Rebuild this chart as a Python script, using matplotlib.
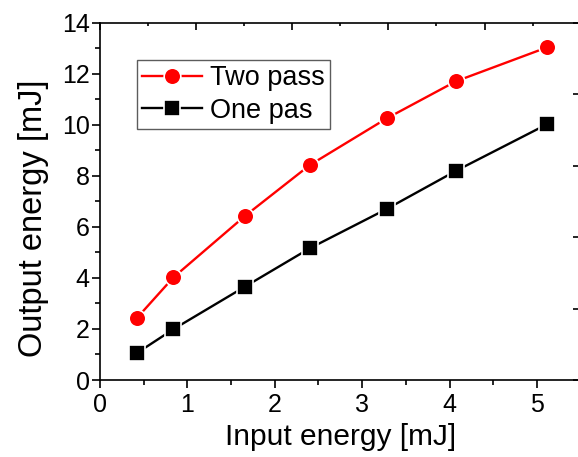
import matplotlib

matplotlib.use("Agg")
import matplotlib.pyplot as plt
from matplotlib.ticker import MultipleLocator

plt.rcParams["font.family"] = ["Liberation Sans", "DejaVu Sans"]

# input energy [mJ]
input_energy = [0.42, 0.84, 1.66, 2.40, 3.28, 4.07, 5.12]
# output energy [mJ]
two_pass = [2.42, 4.02, 6.43, 8.42, 10.25, 11.70, 13.04]
one_pass = [1.05, 1.99, 3.66, 5.16, 6.70, 8.19, 10.03]

fig = plt.figure(figsize=(5.78, 4.57), dpi=100)
ax = fig.add_axes([100 / 578, 77 / 457, 480.7 / 578, 357.3 / 457])

ax.plot(input_energy, two_pass, color="red", lw=1.7, marker="o", ms=12,
        mfc="red", mec="white", mew=1.2, label="Two pass", clip_on=False)
ax.plot(input_energy, one_pass, color="black", lw=1.7, marker="s", ms=11,
        mfc="black", mec="white", mew=1.2, label="One pas", clip_on=False)

ax.set_xlim(0, 5.5)
ax.set_ylim(0, 14)
ax.xaxis.set_major_locator(MultipleLocator(1))
ax.xaxis.set_minor_locator(MultipleLocator(0.5))
ax.yaxis.set_major_locator(MultipleLocator(2))
ax.yaxis.set_minor_locator(MultipleLocator(1))
ax.tick_params(which="both", direction="out", top=False, right=False,
               width=1.2, labelsize=18)
ax.tick_params(axis="x", pad=4)
ax.tick_params(axis="y", pad=2)
ax.tick_params(which="major", length=5.5)
ax.tick_params(which="minor", length=3.5)
for side in ("left", "bottom", "top"):
    ax.spines[side].set_linewidth(1.2)
ax.spines["right"].set_visible(False)

ax.set_xlabel("Input energy [mJ]", fontsize=21.5, labelpad=4)
ax.set_ylabel("Output energy [mJ]", fontsize=23.5, labelpad=9)
ax.yaxis.label.set_y(0.453)

# secondary scales drawn only as inward ticks (top and right)
axr = ax.twinx()
axr.set_ylim(0, 5)
axr.yaxis.set_major_locator(MultipleLocator(1))
axr.yaxis.set_minor_locator(MultipleLocator(0.5))
axr.tick_params(which="both", direction="in", labelright=False, width=1.2)
axr.tick_params(which="major", length=5.5)
axr.tick_params(which="minor", length=2.5)
for s in axr.spines.values():
    s.set_visible(False)

axt = ax.twiny()
axt.set_xlim(0, 5)
axt.xaxis.set_major_locator(MultipleLocator(1))
axt.xaxis.set_minor_locator(MultipleLocator(0.5))
axt.tick_params(which="both", direction="in", labeltop=False, width=1.2)
axt.tick_params(which="major", length=5)
axt.tick_params(which="minor", length=2.5)
for s in axt.spines.values():
    s.set_visible(False)

leg = ax.legend(loc="upper left", bbox_to_anchor=(0.077, 0.896),
                borderaxespad=0, fontsize=19.5, frameon=True, fancybox=False,
                handlelength=2.2, handletextpad=0.3, borderpad=0.2,
                labelspacing=0.24, edgecolor="#333333")
leg.get_frame().set_linewidth(1.0)
leg.set_zorder(5)

fig.savefig("out.png", dpi=100)
